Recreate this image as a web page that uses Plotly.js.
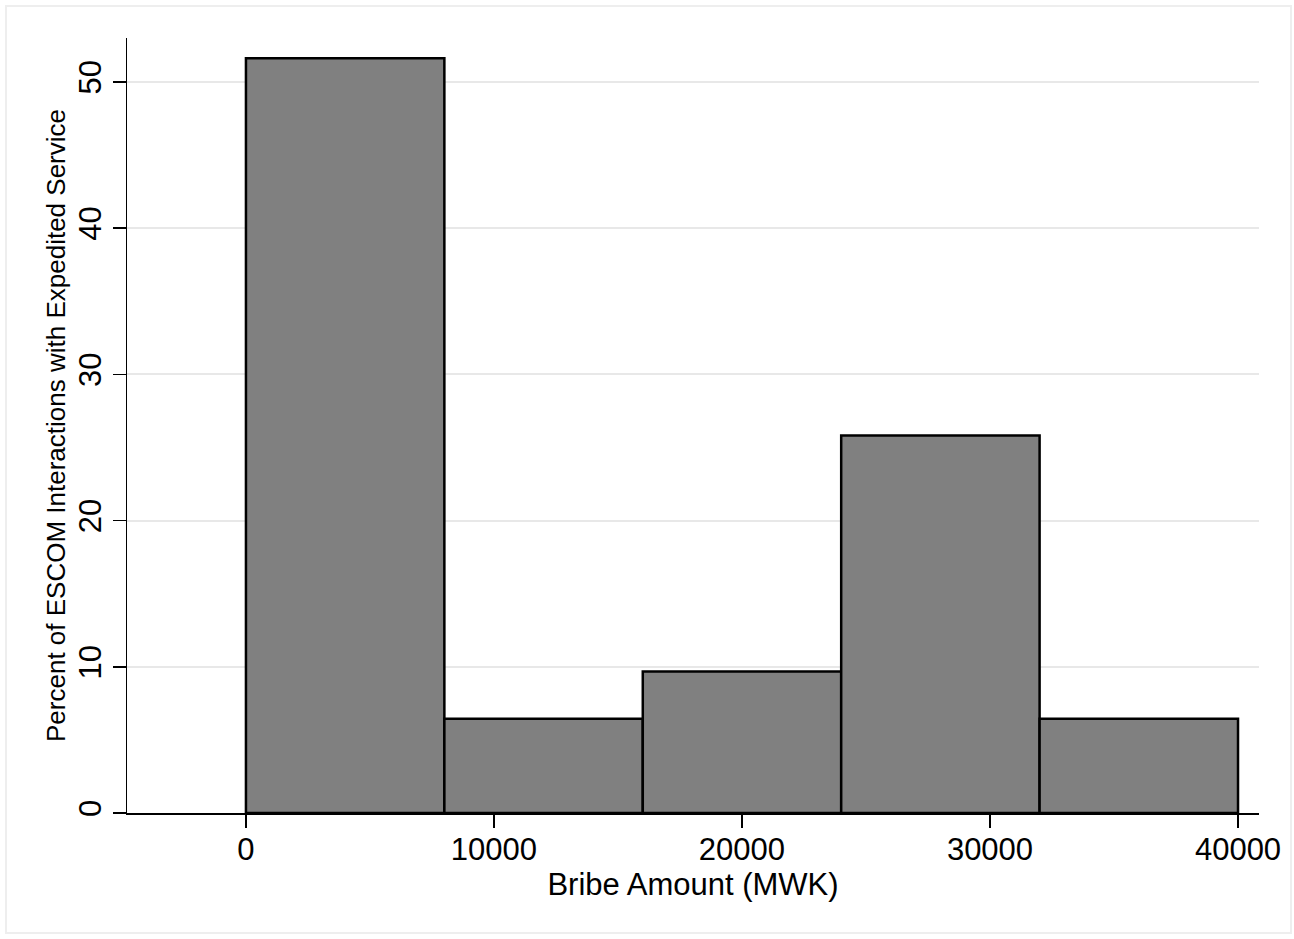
<!DOCTYPE html>
<html>
<head>
<meta charset="utf-8">
<script src="https://cdn.plot.ly/plotly-3.0.1.min.js"></script>
<style>
  html, body { margin: 0; padding: 0; background: #ffffff; }
  #chart { width: 1294px; height: 939px; }
</style>
</head>
<body>
<div id="chart"></div>
<script>
// Histogram bins (MWK) and percentages
const binStarts = [0, 8000, 16000, 24000, 32000];
const binWidth = 8000;
const percents = [51.61, 6.45, 9.68, 25.81, 6.45];
const xTickVals = [0, 10000, 20000, 30000, 40000];
const yTickVals = [0, 10, 20, 30, 40, 50];
const xTitle = 'Bribe Amount (MWK)';
const yTitle = 'Percent of ESCOM Interactions with Expedited Service';

const W = 1294, H = 939;
const m = { l: 127, r: 35, t: 38, b: 126 };
const pw = W - m.l - m.r, ph = H - m.t - m.b;
const px = v => (v - m.l) / pw;
const py = v => (H - m.b - v) / ph;

const fontFam = '"Liberation Sans", Arial, Helvetica, sans-serif';

const trace = {
  type: 'bar',
  x: binStarts.map(s => s + binWidth / 2),
  y: percents,
  width: binStarts.map(() => binWidth),
  marker: { color: '#808080', line: { color: '#000000', width: 2.5 } },
  hoverinfo: 'x+y'
};

const layout = {
  width: W, height: H,
  margin: m,
  paper_bgcolor: '#ffffff',
  plot_bgcolor: '#ffffff',
  showlegend: false,
  bargap: 0,
  font: { family: fontFam, color: '#000000' },
  xaxis: {
    range: [-4796, 40846],
    tickvals: xTickVals,
    tickformat: 'd',
    ticks: 'outside', ticklen: 13, tickwidth: 1.5, tickcolor: '#000',
    ticklabelstandoff: -5,
    showline: true, linecolor: '#000', linewidth: 1.5,
    showgrid: false, zeroline: false,
    tickfont: { size: 31, family: fontFam },
    title: { text: xTitle, font: { size: 31, family: fontFam }, standoff: 4 }
  },
  yaxis: {
    range: [0, 53.0],
    tickvals: yTickVals,
    tickangle: -90,
    ticks: 'outside', ticklen: 13, tickwidth: 1.5, tickcolor: '#000',
    ticklabelstandoff: -1,
    showline: true, linecolor: '#000', linewidth: 1.5,
    showgrid: true, gridcolor: '#e8e8e8', gridwidth: 2,
    zeroline: false,
    tickfont: { size: 31, family: fontFam },
    title: { text: yTitle, font: { size: 26, family: fontFam }, standoff: 0 }
  },
  shapes: [{
    type: 'rect', xref: 'paper', yref: 'paper', layer: 'below',
    x0: px(6), x1: px(1291), y0: py(933), y1: py(6),
    line: { color: '#eeeeee', width: 2 }, fillcolor: 'rgba(0,0,0,0)'
  }]
};

Plotly.newPlot('chart', [trace], layout, { displayModeBar: false, staticPlot: true });
</script>
</body>
</html>
